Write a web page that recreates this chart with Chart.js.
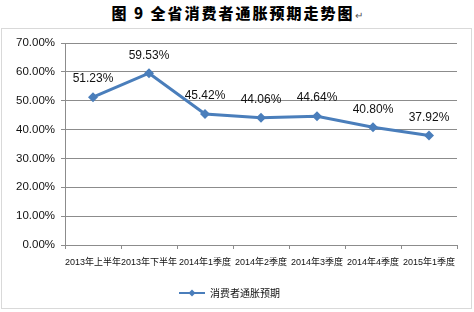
<!DOCTYPE html>
<html>
<head>
<meta charset="utf-8">
<script src="https://cdn.jsdelivr.net/npm/chart.js@4"></script>
<style>
  html, body { margin: 0; padding: 0; background: #fff; }
  body { width: 474px; height: 312px; position: relative; overflow: hidden; }
  #title { position: absolute; left: 0; top: 3px; width: 474px; text-align: center;
    font-family: "Noto Sans CJK SC", sans-serif; font-weight: 900; font-size: 15px;
    letter-spacing: 2px; line-height: 20px; color: #000; }
  #title .ret { font-size: 10px; color: #555; font-weight: 400; letter-spacing: 0; }
  #box { position: absolute; left: 1px; top: 28px; width: 469px; height: 279px;
    border: 1px solid #d9d9d9; }
  canvas { display: block; }
</style>
</head>
<body>
<div id="title">图 9 全省消费者通胀预期走势图<span class="ret">↵</span></div>
<div id="box"><canvas id="c" width="469" height="279"></canvas></div>
<script>
const categories = ["2013年上半年", "2013年下半年", "2014年1季度", "2014年2季度", "2014年3季度", "2014年4季度", "2015年1季度"];
const seriesName = "消费者通胀预期";
const values = [51.23, 59.53, 45.42, 44.06, 44.64, 40.80, 37.92];
const yTicks = [0, 10, 20, 30, 40, 50, 60, 70];

const lineColor = "#4a7ebb";

// legend marker: line with diamond
const mk = document.createElement("canvas");
mk.width = 26; mk.height = 10;
(function () {
  const g = mk.getContext("2d");
  g.strokeStyle = lineColor; g.lineWidth = 2;
  g.beginPath(); g.moveTo(0, 5); g.lineTo(26, 5); g.stroke();
  g.fillStyle = lineColor;
  g.beginPath(); g.moveTo(13, 1.5); g.lineTo(16.5, 5); g.lineTo(13, 8.5); g.lineTo(9.5, 5); g.closePath(); g.fill();
})();

const dataLabels = {
  id: "dataLabels",
  afterDatasetsDraw(chart) {
    const ctx = chart.ctx;
    const meta = chart.getDatasetMeta(0);
    ctx.save();
    ctx.font = "12px 'Liberation Sans', Arial, sans-serif";
    ctx.fillStyle = "#111";
    ctx.textAlign = "center";
    ctx.textBaseline = "middle";
    meta.data.forEach((pt, i) => {
      ctx.fillText(values[i].toFixed(2) + "%", pt.x, pt.y - 18);
    });
    ctx.restore();
  }
};

new Chart(document.getElementById("c"), {
  type: "line",
  data: {
    labels: categories,
    datasets: [{
      label: seriesName,
      data: values,
      borderColor: lineColor,
      backgroundColor: lineColor,
      borderWidth: 3,
      tension: 0,
      pointStyle: "rectRot",
      pointRadius: 5,
      pointHoverRadius: 5,
      pointBackgroundColor: lineColor,
      pointBorderColor: lineColor,
      pointBorderWidth: 0
    }]
  },
  options: {
    responsive: false,
    animation: false,
    events: [],
    layout: { padding: { top: 14, right: 14, left: 0, bottom: 0 } },
    plugins: {
      title: { display: false },
      tooltip: { enabled: false },
      legend: {
        position: "bottom",
        labels: {
          usePointStyle: true,
          pointStyle: mk,
          pointStyleWidth: 26,
          font: { size: 10, family: "'Noto Sans CJK SC', sans-serif" },
          color: "#111",
          padding: 10
        }
      }
    },
    scales: {
      x: {
        offset: true,
        grid: { display: true, drawOnChartArea: false, drawTicks: true, tickLength: 4, offset: true, color: "#8c8c8c" },
        border: { display: true, color: "#8c8c8c", width: 1 },
        ticks: {
          autoSkip: false, maxRotation: 0, minRotation: 0, padding: 8,
          font: { size: 9, family: "'Liberation Sans', 'Noto Sans CJK SC', sans-serif" },
          color: "#111"
        },
        afterFit(s) { s.height = 33; }
      },
      y: {
        min: 0, max: 70,
        afterBuildTicks(s) { s.ticks = yTicks.map(v => ({ value: v })); },
        grid: { color: "#8c8c8c", tickLength: 4, drawTicks: true },
        border: { display: true, color: "#8c8c8c", width: 1 },
        ticks: {
          padding: 6,
          font: { size: 11.5, family: "'Liberation Sans', Arial, sans-serif" },
          color: "#111",
          callback: v => v.toFixed(2) + "%"
        },
        afterFit(s) { s.width = 63; }
      }
    }
  },
  plugins: [dataLabels]
});
</script>
</body>
</html>
